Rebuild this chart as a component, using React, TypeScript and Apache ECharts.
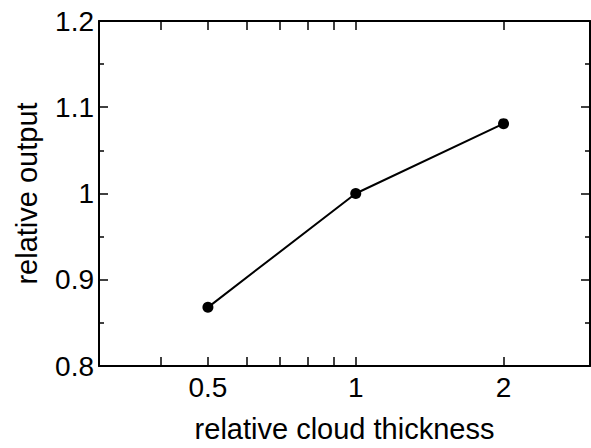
import React, { useEffect, useRef } from "react";
import * as echarts from "echarts";

const thickness = [0.5, 1, 2];
const output = [0.868, 1.0, 1.081];
const xTickValues = [0.4, 0.5, 0.6, 0.7, 0.8, 0.9, 1, 2];
const xLabelValues = [0.5, 1, 2];

export default function App() {
  const ref = useRef<HTMLDivElement>(null);
  useEffect(() => {
    if (!ref.current) return;
    const chart = echarts.init(ref.current, null, { renderer: "svg" });
    const font = "Liberation Sans, Arial, sans-serif";
    const axisLine = { show: true, lineStyle: { color: "#000", width: 2 } };
    const tickStyle = { color: "#000", width: 1.5 };
    chart.setOption({
      animation: false,
      backgroundColor: "#fff",
      grid: { left: 99, top: 21, right: 1, bottom: 74, containLabel: false },
      xAxis: [
        {
          type: "log",
          logBase: 10,
          min: 0.3,
          max: 3,
          position: "bottom",
          axisLine,
          axisTick: { show: true, inside: true, length: 9, lineStyle: tickStyle, customValues: xTickValues },
          axisLabel: { show: true, customValues: xLabelValues, color: "#000", fontSize: 28, fontFamily: font, margin: 7 },
          splitLine: { show: false },
          minorTick: { show: false },
          name: "relative cloud thickness",
          nameLocation: "middle",
          nameGap: 48,
          nameTextStyle: { color: "#000", fontSize: 29, fontFamily: font },
        },
        {
          type: "log",
          logBase: 10,
          min: 0.3,
          max: 3,
          position: "top",
          axisLine,
          axisTick: { show: true, inside: true, length: 9, lineStyle: tickStyle, customValues: xTickValues },
          axisLabel: { show: false },
          splitLine: { show: false },
        },
      ],
      yAxis: [
        {
          type: "value",
          min: 0.8,
          max: 1.2,
          interval: 0.1,
          position: "left",
          axisLine,
          axisTick: { show: true, inside: true, length: 9, lineStyle: tickStyle },
          minorTick: { show: true, splitNumber: 2, length: 5, lineStyle: tickStyle },
          axisLabel: {
            color: "#000",
            fontSize: 28,
            fontFamily: font,
            margin: 5,
            formatter: (v: number) => String(parseFloat(v.toFixed(2))),
          },
          splitLine: { show: false },
          name: "relative output",
          nameLocation: "middle",
          nameGap: 58,
          nameTextStyle: { color: "#000", fontSize: 29, fontFamily: font },
        },
        {
          type: "value",
          min: 0.8,
          max: 1.2,
          interval: 0.1,
          position: "right",
          axisLine,
          axisTick: { show: true, inside: true, length: 9, lineStyle: tickStyle },
          minorTick: { show: true, splitNumber: 2, length: 5, lineStyle: tickStyle },
          axisLabel: { show: false },
          splitLine: { show: false },
        },
      ],
      series: [
        {
          type: "line",
          xAxisIndex: 0,
          yAxisIndex: 0,
          data: thickness.map((t, i) => [t, output[i]]),
          symbol: "circle",
          symbolSize: 11,
          itemStyle: { color: "#000" },
          lineStyle: { color: "#000", width: 2 },
        },
      ],
    });
    return () => chart.dispose();
  }, []);
  return <div ref={ref} style={{ width: 591, height: 448, position: "absolute", left: 0, top: 0 }} />;
}
